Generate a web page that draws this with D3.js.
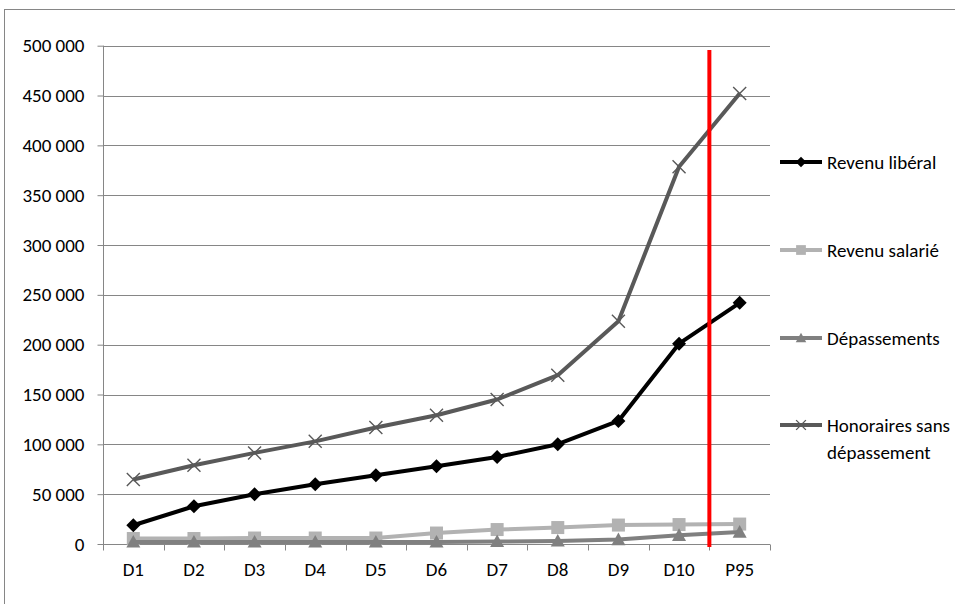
<!DOCTYPE html>
<html>
<head>
<meta charset="utf-8">
<script src="https://cdn.jsdelivr.net/npm/d3@7"></script>
<style>
  html, body { margin: 0; padding: 0; background: #fff; }
  svg { display: block; }
  text { font-family: Carlito, Calibri, Lato, sans-serif; fill: #000; }
</style>
</head>
<body>
<svg id="chart" width="955" height="604"></svg>
<script>
const categories = ["D1", "D2", "D3", "D4", "D5", "D6", "D7", "D8", "D9", "D10", "P95"];
const revenuLiberal = [18800, 37900, 49900, 60000, 69000, 78000, 87300, 100100, 123500, 201000, 242000];
const revenuSalarie = [5500, 5500, 6000, 6000, 6000, 11000, 14500, 16500, 19000, 19500, 20000];
const depassements = [2000, 2000, 2000, 2000, 2000, 2000, 2500, 3000, 4400, 8700, 12000];
const honoraires = [64700, 79000, 91400, 103000, 116900, 129200, 145000, 169400, 223500, 378500, 452000];
const yTicks = [0, 50000, 100000, 150000, 200000, 250000, 300000, 350000, 400000, 450000, 500000];
const seriesNames = ["Revenu libéral", "Revenu salarié", "Dépassements", "Honoraires sans|dépassement"];

const svg = d3.select("#chart");
const pLeft = 103, pRight = 770, pTop = 45.7, pBottom = 544;
const FONT = "Carlito, Calibri, Lato, sans-serif";
const FS = "19px";

// outer frame
svg.append("rect").attr("x", 4.5).attr("y", 9.5).attr("width", 1000).attr("height", 700)
  .attr("fill", "none").attr("stroke", "#868686").attr("stroke-width", 1);

const x = d3.scaleBand().domain(categories).range([pLeft, pRight]).padding(0);
const y = d3.scaleLinear().domain([0, 500000]).range([pBottom, pTop]);
const cx = c => x(c) + x.bandwidth() / 2;

// gridlines
svg.append("g").selectAll("line").data(yTicks.filter(v => v > 0)).join("line")
  .attr("x1", pLeft).attr("x2", pRight)
  .attr("y1", d => Math.round(y(d)) + 0.5).attr("y2", d => Math.round(y(d)) + 0.5)
  .attr("stroke", "#868686").attr("stroke-width", 1);

// y axis
const fmt = d => d3.format(",")(d).replace(/,/g, " ");
const yAxis = svg.append("g").attr("transform", `translate(${pLeft + 0.5},0)`)
  .call(d3.axisLeft(y).tickValues(yTicks).tickSize(6).tickPadding(13).tickFormat(fmt));
yAxis.selectAll("line").attr("stroke", "#868686");
yAxis.select(".domain").attr("d", `M0,${pTop}V${pBottom}`).attr("stroke", "#868686");
yAxis.selectAll("text").style("font-size", FS).attr("fill", "#000").style("font-family", FONT);

// x axis
const xAxis = svg.append("g").attr("transform", `translate(0,${Math.round(pBottom) + 0.5})`)
  .call(d3.axisBottom(x).tickSize(0).tickPadding(18));
xAxis.select(".domain").attr("d", `M${pLeft},0H${pRight}`).attr("stroke", "#868686");
xAxis.selectAll("text").style("font-size", FS).attr("fill", "#000").style("font-family", FONT);
const bounds = categories.map(c => x(c)).concat([pRight]);
xAxis.selectAll("line.bt").data(bounds).join("line").attr("class", "bt")
  .attr("x1", d => Math.round(d) + 0.5).attr("x2", d => Math.round(d) + 0.5)
  .attr("y1", 0).attr("y2", 6).attr("stroke", "#868686");

// markers
function diamond(g, px, py, s, fill) {
  g.append("path").attr("d", `M${px},${py - s}L${px + s},${py}L${px},${py + s}L${px - s},${py}Z`).attr("fill", fill);
}
function square(g, px, py, s, fill) {
  g.append("rect").attr("x", px - s).attr("y", py - s).attr("width", 2 * s).attr("height", 2 * s).attr("fill", fill);
}
function triangle(g, px, py, s, fill) {
  g.append("path").attr("d", `M${px},${py - s}L${px + s},${py + s * 0.8}L${px - s},${py + s * 0.8}Z`).attr("fill", fill);
}
function cross(g, px, py, s, col) {
  g.append("path").attr("d", `M${px - s},${py - s}L${px + s},${py + s}M${px - s},${py + s}L${px + s},${py - s}`)
    .attr("stroke", col).attr("stroke-width", 1.4).attr("fill", "none");
}

const series = [
  { name: seriesNames[0], values: revenuLiberal, color: "#000000", marker: diamond, ms: 7 },
  { name: seriesNames[1], values: revenuSalarie, color: "#b2b2b2", marker: square, ms: 6.5 },
  { name: seriesNames[2], values: depassements, color: "#808080", marker: triangle, ms: 7 },
  { name: seriesNames[3], values: honoraires, color: "#595959", marker: cross, ms: 6.5 }
];

const lineGen = d3.line().x((d, i) => cx(categories[i])).y(d => y(d));
series.forEach(s => {
  const g = svg.append("g");
  g.append("path").datum(s.values).attr("d", lineGen)
    .attr("fill", "none").attr("stroke", s.color).attr("stroke-width", 4).attr("stroke-linejoin", "round");
  s.values.forEach((v, i) => s.marker(g, cx(categories[i]), y(v), s.ms, s.color));
});

// red vertical line
const rx = x("P95");
svg.append("line").attr("x1", rx).attr("x2", rx).attr("y1", y(495600)).attr("y2", y(0) + 3)
  .attr("stroke", "#ff0000").attr("stroke-width", 4);

// legend
const legY = [162, 250, 338, 425];
series.forEach((s, i) => {
  const g = svg.append("g");
  const ly = legY[i];
  g.append("line").attr("x1", 780).attr("x2", 822).attr("y1", ly).attr("y2", ly)
    .attr("stroke", s.color).attr("stroke-width", 4);
  s.marker(g, 801, ly, s.ms * 0.75, s.color);
  const parts = s.name.split("|");
  parts.forEach((p, j) => {
    g.append("text").attr("x", 827).attr("y", ly + j * 27).attr("dy", "0.35em")
      .style("font-size", FS).style("font-family", FONT).text(p);
  });
});
</script>
</body>
</html>
